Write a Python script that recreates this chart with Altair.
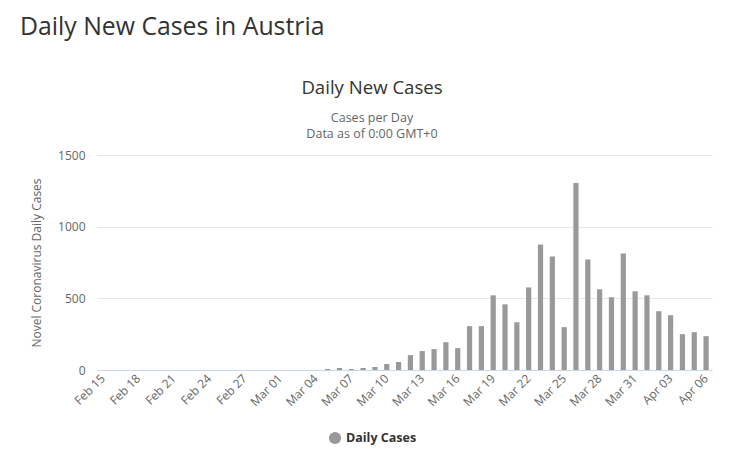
import altair as alt
import pandas as pd

dates = (
    [f"Feb {d:02d}" for d in range(15, 30)]
    + [f"Mar {d:02d}" for d in range(1, 32)]
    + [f"Apr {d:02d}" for d in range(1, 7)]
)
cases = [0] * 19 + [
    7, 14, 7, 14, 21, 42, 56, 104, 132, 146, 194, 153, 306, 306, 521, 458,
    333, 576, 875, 792, 299, 1305, 771, 563, 507, 813, 549, 521, 410, 382,
    250, 264, 236,
]
tick_labels = dates[::3]
series_name = "Daily Cases"

heading_text = "Daily New Cases in Austria"
chart_title = "Daily New Cases"
subtitle_lines = ["Cases per Day", "Data as of 0:00 GMT+0"]

df = pd.DataFrame({"date": dates, "cases": cases, "series": series_name})

FONT = "Open Sans"

bars = alt.Chart(df).mark_bar(color="#999999").encode(
    x=alt.X(
        "date:N",
        sort=dates,
        scale=alt.Scale(paddingInner=0.56, paddingOuter=0.28),
        axis=alt.Axis(
            title=None,
            values=tick_labels,
            labelAngle=-45,
            labelAlign="right",
            labelBaseline="middle",
            labelColor="#666666",
            labelFontSize=12,
            labelFont=FONT,
            labelPadding=6,
            ticks=False,
            domainColor="#ccd6eb",
            grid=False,
        ),
    ),
    y=alt.Y(
        "cases:Q",
        scale=alt.Scale(domain=[0, 1500]),
        axis=alt.Axis(
            title="Novel Coronavirus Daily Cases",
            titleColor="#666666",
            titleFontSize=12,
            titleFont=FONT,
            titleFontWeight="normal",
            titlePadding=14,
            values=[0, 500, 1000, 1500],
            format="d",
            labelColor="#666666",
            labelFontSize=12,
            labelFont=FONT,
            labelPadding=12,
            ticks=False,
            domain=False,
            gridColor="#e6e6e6",
        ),
    ),
    color=alt.Color(
        "series:N",
        scale=alt.Scale(domain=[series_name], range=["#999999"]),
        legend=alt.Legend(
            title=None,
            orient="none",
            legendX=231,
            legendY=276,
            symbolType="circle",
            symbolSize=150,
            labelFontSize=12.5,
            labelFont=FONT,
            labelFontWeight="bold",
            labelColor="#333333",
        ),
    ),
)

heading = alt.Chart(pd.DataFrame({"t": [heading_text]})).mark_text(
    align="left", baseline="middle", fontSize=24.8, font=FONT, color="#333333"
).encode(x=alt.value(-77), y=alt.value(-127), text="t:N")

title_mark = alt.Chart(pd.DataFrame({"t": [chart_title]})).mark_text(
    align="center", baseline="middle", fontSize=18.6, font=FONT, color="#333333"
).encode(x=alt.value(275), y=alt.value(-67), text="t:N")

sub1 = alt.Chart(pd.DataFrame({"t": [subtitle_lines[0]]})).mark_text(
    align="center", baseline="middle", fontSize=12.5, font=FONT, color="#666666"
).encode(x=alt.value(275), y=alt.value(-37), text="t:N")

sub2 = alt.Chart(pd.DataFrame({"t": [subtitle_lines[1]]})).mark_text(
    align="center", baseline="middle", fontSize=12.5, font=FONT, color="#666666"
).encode(x=alt.value(275), y=alt.value(-21), text="t:N")

chart = alt.layer(bars, heading, title_mark, sub1, sub2).properties(
    width=615,
    height=215,
    padding={"left": 89, "top": 147, "right": 9, "bottom": 95},
    autosize=alt.AutoSizeParams(type="none"),
).configure_view(stroke=None)

chart.save("out.html", embed_options={"renderer": "svg", "actions": False})
